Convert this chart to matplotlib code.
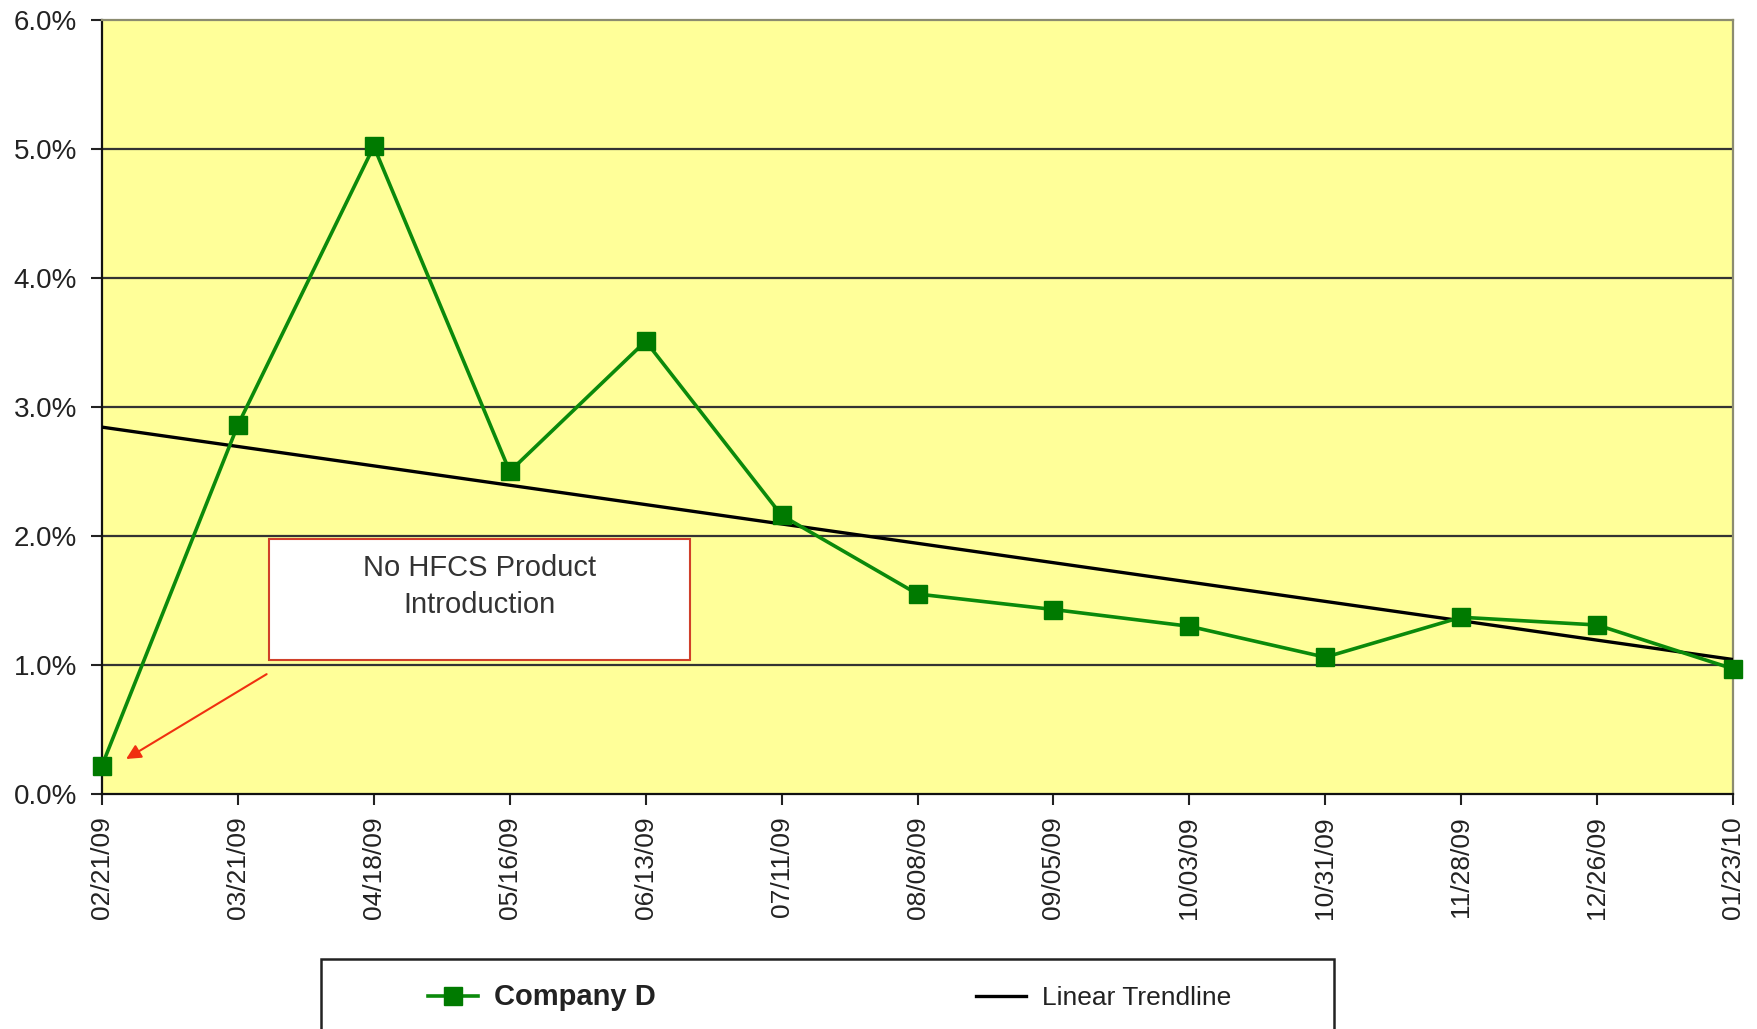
import numpy as np
import matplotlib
matplotlib.use('Agg')
import matplotlib.pyplot as plt
from matplotlib.patches import Rectangle

# data (percent)
dates = ['02/21/09', '03/21/09', '04/18/09', '05/16/09', '06/13/09', '07/11/09',
         '08/08/09', '09/05/09', '10/03/09', '10/31/09', '11/28/09', '12/26/09',
         '01/23/10']
company_d = [0.22, 2.86, 5.02, 2.50, 3.51, 2.16, 1.55, 1.43, 1.30, 1.06, 1.37, 1.31, 0.97]
y_ticks = [0.0, 1.0, 2.0, 3.0, 4.0, 5.0, 6.0]
series_label = 'Company D'
trend_label = 'Linear Trendline'
note_text = 'No HFCS Product\nIntroduction'

plt.rcParams['font.family'] = ['Liberation Sans', 'DejaVu Sans']

fig = plt.figure(figsize=(17.58, 10.29), dpi=100)
ax = fig.add_axes([0.058, 0.2284, 0.9278, 0.7522])
ax.set_facecolor('#FFFF99')

x = np.arange(len(dates))

# horizontal grid lines
for yv in y_ticks[1:-1]:
    ax.axhline(yv, color='#333333', lw=1.6, zorder=1)

# linear trendline (least squares fit like Excel)
slope, intercept = np.polyfit(x, company_d, 1)
ax.plot(x, slope * x + intercept, color='black', lw=2.4, zorder=3, label=trend_label)

ax.plot(x, company_d, color='#0B8A0B', lw=2.6, marker='s', ms=13,
        mfc='#007A00', mec='#007A00', zorder=4, label=series_label, clip_on=False)

ax.set_xlim(0, len(dates) - 1)
ax.set_ylim(0, 6)
ax.set_xticks(x)
ax.set_xticklabels(dates, rotation=90, fontsize=19, color='#222222')
ax.set_yticks(y_ticks)
ax.set_yticklabels(['%.1f%%' % v for v in y_ticks], fontsize=20, color='#222222')
ax.tick_params(axis='both', direction='out', length=8, width=1.5, color='#222222')
ax.tick_params(axis='x', pad=8)
ax.tick_params(axis='y', pad=10)

for side in ['left', 'bottom']:
    ax.spines[side].set_color('#111111')
    ax.spines[side].set_linewidth(1.6)
for side in ['top', 'right']:
    ax.spines[side].set_color('#8C8C70')
    ax.spines[side].set_linewidth(1.6)

# note box and arrow
ax.add_patch(Rectangle((1.229, 1.035), 3.10, 0.94, facecolor='white',
                       edgecolor='#D0402A', lw=1.5, zorder=5))
ax.text(2.78, 1.61, note_text, ha='center', va='center', fontsize=21,
        color='#333333', linespacing=1.4, zorder=6)
ax.annotate('', xy=(0.16, 0.26), xytext=(1.229, 0.94),
            arrowprops=dict(arrowstyle='-|>', color='#F03010', lw=1.5,
                            mutation_scale=22), zorder=6)

# legend box, runs off the bottom of the figure
fig.patches.append(Rectangle((0.1826, -0.05), 0.5765, 0.118, transform=fig.transFigure,
                             facecolor='white', edgecolor='#222222', lw=1.8, zorder=0))
handles, labels = ax.get_legend_handles_labels()
leg = fig.legend(handles[::-1], labels[::-1], loc='center left',
                 bbox_to_anchor=(0.23, 0.031, 0.484, 0.0), mode='expand', ncol=2,
                 frameon=False, fontsize=19, handlelength=1.9, handletextpad=0.6)
leg.get_texts()[0].set_fontsize(21)
leg.get_texts()[0].set_fontweight('semibold')
leg.get_texts()[0].set_color('#222222')
leg.get_texts()[1].set_color('#222222')

fig.savefig('out.png', dpi=100, facecolor='white')
